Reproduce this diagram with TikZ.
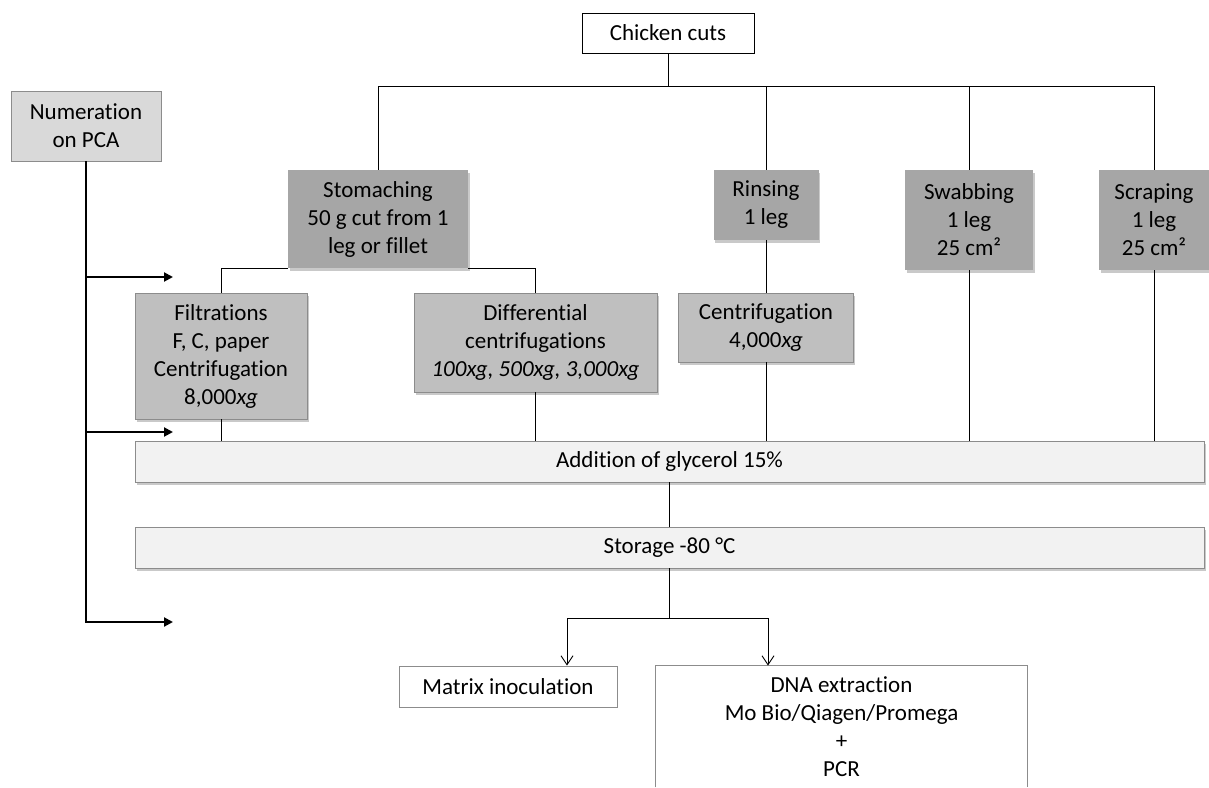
\documentclass[tikz,border=0pt]{standalone}
\usepackage{fontspec}
\setmainfont[Ligatures=NoCommon]{Carlito}
\usetikzlibrary{arrows.meta,shadows}

\definecolor{methodfill}{HTML}{A6A6A6}
\definecolor{treatfill}{HTML}{BFBFBF}
\definecolor{countfill}{HTML}{D9D9D9}
\definecolor{barfill}{HTML}{F2F2F2}
\definecolor{edgegray}{HTML}{8C8C8C}

\begin{document}
\begin{tikzpicture}[x=1pt,y=-1pt,line width=0.9pt,
                    font=\fontsize{23}{28}\selectfont,
                    softshadow/.style={drop shadow={shadow xshift=1.5pt,
                                       shadow yshift=-2.5pt,opacity=0.3,
                                       fill=black!70}},
                    plain/.style={draw,fill=white,align=center,inner sep=0pt},
                    count/.style={draw=edgegray,fill=countfill,align=center,
                                  inner sep=0pt},
                    method/.style={fill=methodfill,align=center,inner sep=0pt,
                                   softshadow},
                    treat/.style={draw=edgegray,fill=treatfill,align=center,
                                  inner sep=0pt,softshadow},
                    bar/.style={draw=edgegray,fill=barfill,inner sep=0pt,
                                minimum width=1069pt,minimum height=41pt,
                                softshadow},
                    feed/.style={line width=2pt,-{Triangle[length=9pt,width=9pt]}},
                    split/.style={-{Straight Barb[length=9pt,width=12pt]}}]
  \useasboundingbox (0,0) rectangle (1209,787);

  \node[plain,minimum width=172pt,minimum height=40pt] (cuts) at (668,33) {Chicken cuts};
  \node[count,minimum width=150pt,minimum height=70pt] (numeration) at (86,126)
       {Numeration\\on PCA};

  \node[method,minimum width=180pt,minimum height=98pt] (stomaching) at (378,219)
       {Stomaching\\50 g cut from 1\\leg or fillet};
  \node[method,minimum width=105pt,minimum height=70pt] (rinsing) at (766,205)
       {Rinsing\\1 leg};
  \node[method,minimum width=128pt,minimum height=100pt] (swabbing) at (969,220)
       {Swabbing\\1 leg\\25 cm²};
  \node[method,minimum width=110pt,minimum height=100pt] (scraping) at (1154,220)
       {Scraping\\1 leg\\25 cm²};

  \node[treat,minimum width=172pt,minimum height=126pt] (filtrations) at (221,356)
       {Filtrations\\F, C, paper\\Centrifugation\\8,000\textit{xg}};
  \node[treat,minimum width=243pt,minimum height=99pt] (differential) at (535.5,342.5)
       {Differential\\centrifugations\\\textit{100xg, 500xg, 3,000xg}};
  \node[treat,minimum width=175pt,minimum height=69pt] (centrifugation) at (766,327.5)
       {Centrifugation\\4,000\textit{xg}};

  \node[bar] (glycerol) at (669.5,461.5) {Addition of glycerol 15\%};
  \node[bar] (storage) at (669.5,547.5) {Storage -80~°C};

  \node[plain,draw=edgegray,minimum width=218pt,minimum height=41pt] (matrix)
       at (508,686.5) {Matrix inoculation};
  \node[align=center,inner sep=0pt,minimum width=371pt,minimum height=121pt] (dna)
       at (841.5,726.5) {DNA extraction\\Mo Bio/Qiagen/Promega\\+\\PCR};
  \draw[edgegray] (dna.south west) -- (dna.north west) -- (dna.north east)
                  -- (dna.south east);

  % sampling methods
  \draw (cuts.south) -- ++(0,33) coordinate (fork);
  \draw (stomaching) |- (fork) -| (scraping);
  \draw (rinsing) -- (rinsing |- fork);
  \draw (swabbing) -- (swabbing |- fork);

  % treatments
  \draw (filtrations) |- (stomaching.south west);
  \draw (differential) |- (stomaching.south east);
  \draw (rinsing) -- (centrifugation);
  \foreach \n in {filtrations,differential,centrifugation,swabbing,scraping}
    \draw (\n) -- (\n |- glycerol.north);
  \draw (glycerol) -- (storage);

  % analyses
  \draw (storage.south) -- ++(0,50) coordinate (branch);
  \draw[split] (branch) -| ([xshift=59pt]matrix.north);
  \draw[split] (branch) -| ([xshift=-73.5pt]dna.north);

  % counts
  \coordinate (in1) at (173,277);
  \coordinate (in2) at (173,432);
  \coordinate (in3) at (173,622);
  \draw[feed] (numeration) |- (in3);
  \foreach \c in {in1,in2}
    \draw[feed] (numeration.south |- \c) -- (\c);
\end{tikzpicture}
\end{document}
